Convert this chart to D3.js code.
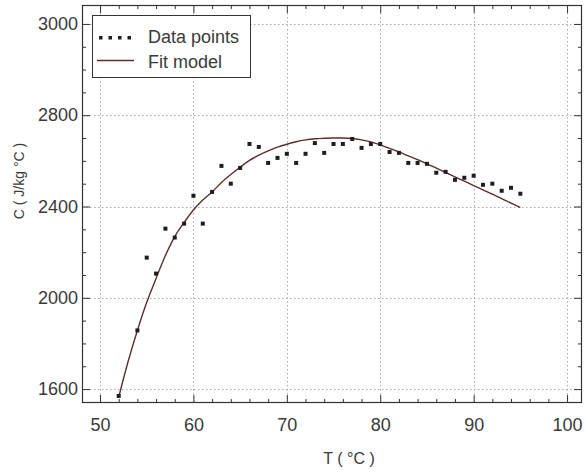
<!DOCTYPE html>
<html>
<head>
<meta charset="utf-8">
<script src="https://cdn.jsdelivr.net/npm/d3@7"></script>
<style>
  html, body { margin: 0; padding: 0; background: #fff; }
  svg { display: block; }
  text { font-family: "Liberation Sans", Arial, sans-serif; fill: #3a3a3a; }
</style>
</head>
<body>
<svg id="chart" width="588" height="473"></svg>
<script>
// ---- data ----
const temps = [52,54,55,56,57,58,59,60,61,62,63,64,65,66,67,68,69,70,71,72,73,74,75,76,77,78,79,80,81,82,83,84,85,86,87,88,89,90,91,92,93,94,95];
const heat  = [1570,1857,2176,2106,2303,2264,2325,2447,2325,2464,2578,2500,2569,2674,2661,2591,2613,2631,2591,2631,2678,2635,2674,2674,2696,2657,2674,2674,2639,2635,2591,2591,2587,2548,2552,2517,2526,2535,2495,2500,2469,2482,2456];

const fitTemps = [52,53,54,55,56,57,58,59,60,61,62,63,64,65,66,67,68,69,70,71,72,73,74,75,76,77,78,79,80,81,82,83,84,85,86,87,88,89,90,91,92,93,94,95];
const fitHeat  = [1565,1720,1857,1980,2085,2185,2268,2330,2385,2428,2464,2505,2540,2572,2602,2625,2644,2660,2673,2684,2692,2697,2699,2700,2700,2698,2692,2683,2670,2655,2639,2622,2605,2587,2568,2549,2530,2511,2492,2473,2454,2435,2415,2396];

const xTicks = [50,60,70,80,90,100];
const xTickLabels = ["50","60","70","80","90","100"];
const yTicks = [1600,2000,2400,2800,3200];
const yTickLabels = ["1600","2000","2400","2800","3000"];

const legendLabels = ["Data points","Fit model"];
const xTitle = "T ( \u00B0C )";
const yTitle = "C ( J/kg \u00B0C )";

// ---- layout ----
const W = 588, H = 473;
const m = {left: 82, top: 5, right: 6, bottom: 70};
const pw = W - m.left - m.right, ph = H - m.top - m.bottom;

const x = d3.scaleLinear().domain([48.07, 101.6]).range([0, pw]);
const y = d3.scaleLinear().domain([1539, 3283]).range([ph, 0]);

const svg = d3.select("#chart");
const g = svg.append("g").attr("transform", `translate(${m.left},${m.top})`);

g.append("rect").attr("width", pw).attr("height", ph).attr("fill", "#fff");

// grid
const grid = g.append("g").attr("stroke", "#aaaaaa").attr("stroke-width", 1).attr("stroke-dasharray", "1.5,2.5");
grid.selectAll(".gx").data(xTicks).join("line")
  .attr("x1", d => Math.round(x(d)) + 0.5).attr("x2", d => Math.round(x(d)) + 0.5)
  .attr("y1", 0).attr("y2", ph);
grid.selectAll(".gy").data(yTicks).join("line")
  .attr("y1", d => Math.round(y(d)) + 0.5).attr("y2", d => Math.round(y(d)) + 0.5)
  .attr("x1", 0).attr("x2", pw);

// minor tick values
const xMinor = d3.range(48, 102, 2).filter(v => !xTicks.includes(v) && v >= 48.07 && v <= 101.6);
const yMinor = d3.range(1600, 3283, 100).filter(v => !yTicks.includes(v));

function styleAxis(sel) {
  sel.select(".domain").remove();
  sel.selectAll("line").attr("stroke", "#333").attr("stroke-width", 1);
  sel.selectAll("text").attr("font-size", 18).attr("fill", "#3a3a3a");
}

// bottom
g.append("g").attr("transform", `translate(0,${ph})`)
  .call(d3.axisBottom(x).tickValues(xTicks).tickSizeInner(-8).tickSizeOuter(0).tickPadding(15)
        .tickFormat((d,i) => xTickLabels[i]))
  .call(styleAxis);
g.append("g").attr("transform", `translate(0,${ph})`)
  .call(d3.axisBottom(x).tickValues(xMinor).tickSizeInner(-4).tickSizeOuter(0).tickFormat(""))
  .call(styleAxis);
// top
g.append("g")
  .call(d3.axisTop(x).tickValues(xTicks).tickSizeInner(-8).tickSizeOuter(0).tickFormat(""))
  .call(styleAxis);
g.append("g")
  .call(d3.axisTop(x).tickValues(xMinor).tickSizeInner(-4).tickSizeOuter(0).tickFormat(""))
  .call(styleAxis);
// left
g.append("g")
  .call(d3.axisLeft(y).tickValues(yTicks).tickSizeInner(-8).tickSizeOuter(0).tickPadding(4)
        .tickFormat((d,i) => yTickLabels[i]))
  .call(styleAxis);
g.append("g")
  .call(d3.axisLeft(y).tickValues(yMinor).tickSizeInner(-4).tickSizeOuter(0).tickFormat(""))
  .call(styleAxis);
// right
g.append("g").attr("transform", `translate(${pw},0)`)
  .call(d3.axisRight(y).tickValues(yTicks).tickSizeInner(-8).tickSizeOuter(0).tickFormat(""))
  .call(styleAxis);
g.append("g").attr("transform", `translate(${pw},0)`)
  .call(d3.axisRight(y).tickValues(yMinor).tickSizeInner(-4).tickSizeOuter(0).tickFormat(""))
  .call(styleAxis);

// frame
g.append("rect").attr("x", 0.5).attr("y", 0.5).attr("width", pw - 1).attr("height", ph - 1)
  .attr("fill", "none").attr("stroke", "#333").attr("stroke-width", 1.2);

// fit line
const fitData = fitTemps.map((t, i) => ({t, c: fitHeat[i]}));
g.append("path").datum(fitData)
  .attr("fill", "none").attr("stroke", "#5e2e2e").attr("stroke-width", 1.4)
  .attr("d", d3.line().x(d => x(d.t)).y(d => y(d.c)).curve(d3.curveMonotoneX));

// data points
const pts = temps.map((t, i) => ({t, c: heat[i]}));
g.selectAll(".pt").data(pts).join("rect")
  .attr("x", d => x(d.t) - 2).attr("y", d => y(d.c) - 2)
  .attr("width", 4).attr("height", 4).attr("fill", "#1e1e1e");

// legend
const lg = svg.append("g");
lg.append("rect").attr("x", 92.5).attr("y", 15.5).attr("width", 158).attr("height", 62)
  .attr("fill", "#fff").attr("stroke", "#333").attr("stroke-width", 1);
lg.selectAll(".ld").data(d3.range(4)).join("rect")
  .attr("x", d => 99 + d * 9.5).attr("y", 36).attr("width", 3.5).attr("height", 3.5).attr("fill", "#1e1e1e");
lg.append("line").attr("x1", 97).attr("x2", 134).attr("y1", 60.5).attr("y2", 60.5)
  .attr("stroke", "#5e2e2e").attr("stroke-width", 1.4);
lg.selectAll(".lt").data(legendLabels).join("text")
  .attr("x", 148).attr("y", (d, i) => 43 + i * 25)
  .attr("font-size", 18).text(d => d);

// axis titles
svg.append("text").attr("x", 349).attr("y", 464).attr("text-anchor", "middle")
  .attr("font-size", 16).text(xTitle);
svg.append("text").attr("transform", "translate(24,181) rotate(-90)").attr("text-anchor", "middle")
  .attr("font-size", 14).text(yTitle);
</script>
</body>
</html>
